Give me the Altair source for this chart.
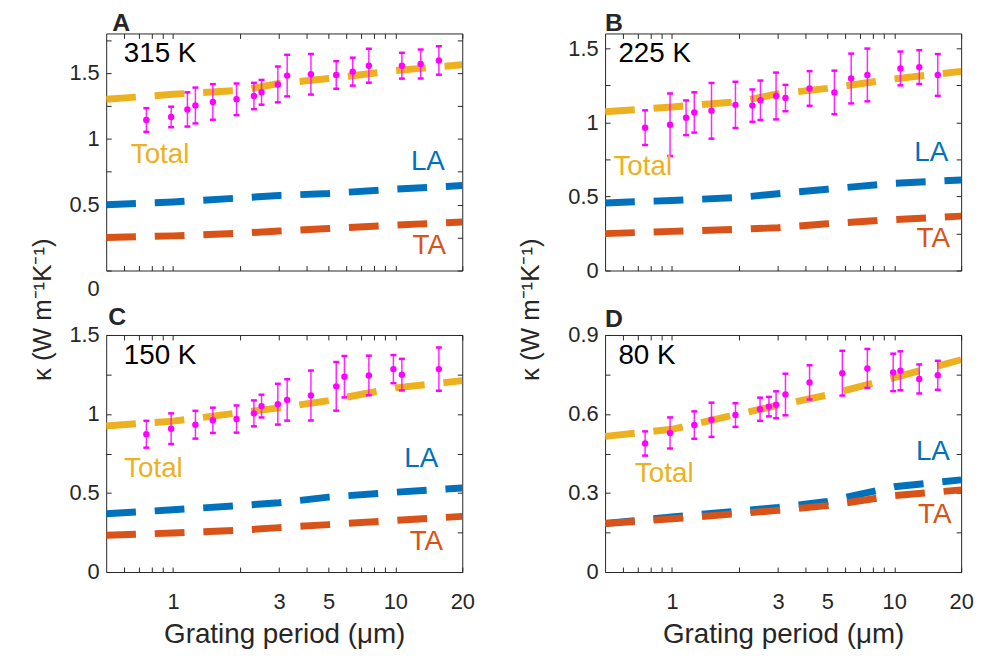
import altair as alt
import pandas as pd

FONT = "Liberation Sans"
C_TOTAL = "#EDB120"
C_LA = "#0072BD"
C_TA = "#D95319"
C_PT = "#FF00FF"
AX = "#262626"

# ---------------- shared axis data ----------------
X_DOMAIN = [0.5, 20]
X_TICKS = [0.6, 0.7, 0.8, 0.9, 1, 2, 3, 4, 5, 6, 7, 8, 9, 10, 20]
X_LABELS = [1, 3, 5, 10, 20]
LINE_X = [0.5, 1, 2, 3, 5, 10, 20]

# ---------------- Panel A : 315 K ----------------
a_px = [0.758, 0.98, 1.16, 1.26, 1.51, 1.93, 2.31, 2.50, 2.96, 3.26, 4.17, 5.42, 6.43, 7.60, 10.7, 13.0, 15.7]
a_py = [1.143, 1.166, 1.223, 1.253, 1.28, 1.30, 1.325, 1.353, 1.413, 1.48, 1.49, 1.485, 1.51, 1.555, 1.555, 1.568, 1.595]
a_pe = [0.09, 0.078, 0.13, 0.136, 0.135, 0.12, 0.10, 0.094, 0.136, 0.158, 0.154, 0.105, 0.106, 0.129, 0.098, 0.11, 0.108]
a_total = [1.30, 1.338, 1.368, 1.42, 1.458, 1.518, 1.563]
a_la = [0.50, 0.52, 0.551, 0.57, 0.585, 0.618, 0.645]
a_ta = [0.25, 0.263, 0.283, 0.30, 0.319, 0.345, 0.368]
a_yticks = [0, 0.25, 0.5, 0.75, 1, 1.25, 1.5, 1.75]
a_ylabels = [0, 0.5, 1, 1.5]

# ---------------- Panel B : 225 K ----------------
b_px = [0.757, 0.98, 1.157, 1.26, 1.506, 1.93, 2.30, 2.50, 2.94, 3.24, 4.16, 5.38, 6.40, 7.57, 10.66, 12.96, 15.7]
b_py = [0.964, 0.984, 1.031, 1.067, 1.078, 1.118, 1.113, 1.149, 1.178, 1.164, 1.229, 1.202, 1.296, 1.32, 1.364, 1.373, 1.32]
b_pe = [0.117, 0.211, 0.117, 0.136, 0.188, 0.156, 0.109, 0.133, 0.158, 0.089, 0.117, 0.147, 0.168, 0.178, 0.114, 0.114, 0.141]
b_total = [1.071, 1.104, 1.14, 1.193, 1.229, 1.293, 1.344]
b_la = [0.456, 0.473, 0.493, 0.518, 0.549, 0.589, 0.611]
b_ta = [0.249, 0.264, 0.278, 0.289, 0.316, 0.344, 0.367]
b_yticks = [0, 0.25, 0.5, 0.75, 1, 1.25, 1.5]
b_ylabels = [0, 0.5, 1, 1.5]

# ---------------- Panel C : 150 K ----------------
c_px = [0.758, 0.98, 1.26, 1.51, 1.93, 2.31, 2.50, 2.96, 3.26, 4.17, 5.42, 5.90, 7.60, 9.80, 10.7, 15.7]
c_py = [0.872, 0.907, 0.932, 0.96, 0.968, 1.004, 1.05, 1.062, 1.089, 1.117, 1.175, 1.236, 1.244, 1.284, 1.249, 1.284]
c_pe = [0.085, 0.097, 0.088, 0.08, 0.086, 0.082, 0.072, 0.129, 0.131, 0.158, 0.154, 0.131, 0.125, 0.089, 0.1, 0.137]
c_total = [0.924, 0.955, 1.008, 1.039, 1.085, 1.165, 1.211]
c_la = [0.369, 0.394, 0.421, 0.438, 0.474, 0.505, 0.532]
c_ta = [0.233, 0.247, 0.264, 0.281, 0.30, 0.327, 0.352]
c_yticks = [0, 0.25, 0.5, 0.75, 1, 1.25, 1.5]
c_ylabels = [0, 0.5, 1, 1.5]

# ---------------- Panel D : 80 K ----------------
d_px = [0.757, 0.98, 1.26, 1.506, 1.93, 2.49, 2.73, 2.94, 3.24, 4.16, 5.84, 7.57, 9.89, 10.66, 12.96, 15.7]
d_py = [0.488, 0.528, 0.558, 0.578, 0.596, 0.618, 0.628, 0.635, 0.674, 0.72, 0.755, 0.773, 0.758, 0.764, 0.733, 0.747]
d_pe = [0.046, 0.059, 0.052, 0.065, 0.045, 0.044, 0.037, 0.051, 0.079, 0.065, 0.085, 0.074, 0.071, 0.074, 0.055, 0.055]
d_total = [0.515, 0.542, 0.600, 0.633, 0.672, 0.738, 0.806]
d_la = [0.184, 0.209, 0.232, 0.245, 0.268, 0.324, 0.35]
d_ta = [0.184, 0.202, 0.222, 0.234, 0.252, 0.29, 0.312]
d_yticks = [0, 0.15, 0.3, 0.45, 0.6, 0.75, 0.9]
d_ylabels = [0, 0.3, 0.6, 0.9]

# ---------------- annotation texts (label, x, y) ----------------
a_text = {"temp": ("315 K", 0.60, 1.645), "Total": ("Total", 0.645, 0.877),
          "LA": ("LA", 16.7, 0.827), "TA": ("TA", 16.9, 0.188)}
b_text = {"temp": ("225 K", 0.574, 1.458), "Total": ("Total", 0.545, 0.696),
          "LA": ("LA", 17.5, 0.793), "TA": ("TA", 17.8, 0.211)}
c_text = {"temp": ("150 K", 0.60, 1.366), "Total": ("Total", 0.602, 0.651),
          "LA": ("LA", 15.6, 0.714), "TA": ("TA", 16.4, 0.19)}
d_text = {"temp": ("80 K", 0.574, 0.819), "Total": ("Total", 0.681, 0.372),
          "LA": ("LA", 17.8, 0.454), "TA": ("TA", 18.1, 0.215)}

W, H = 359, 239
TICK = {"expr": "-5"}
YTITLE = "κ (W m⁻¹K⁻¹)"


def make_panel(letter, letter_dx, letter_off, ymax, yticks, ylabels, px, py, pe,
               tot, la, ta, texts, bottom, ytitle_x, zero_shift):
    pts = pd.DataFrame({"x": px, "y": py,
                        "lo": [y - e for y, e in zip(py, pe)],
                        "hi": [y + e for y, e in zip(py, pe)]})
    xs = alt.Scale(type="log", domain=X_DOMAIN, nice=False)
    ys = alt.Scale(domain=[0, ymax], nice=False, zero=False)

    x_kw = dict(values=X_TICKS, domain=False, grid=False, tickSize=TICK,
                tickColor=AX, tickWidth=1, labelFontSize=22, labelColor=AX,
                labelExpr=f"indexof({X_LABELS}, datum.value) >= 0 ? format(datum.value, '~g') : ''",
                labelPadding=25, labelFlush=False)
    if bottom:
        x_axis = alt.Axis(labels=True, title="Grating period (μm)", titleFontSize=28,
                          titleFontWeight="normal", titleColor=AX, titlePadding=8, **x_kw)
    else:
        x_axis = alt.Axis(labels=False, **x_kw)

    y_kw = dict(values=yticks, domain=False, grid=False, tickSize=TICK,
                tickColor=AX, tickWidth=1, labelFontSize=22, labelColor=AX,
                labelExpr=f"indexof({ylabels}, datum.value) >= 0 ? format(datum.value, '~g') : ''",
                labelPadding=12, labelFlush=False)
    if zero_shift:
        y_kw["labelOffset"] = {"condition": {"test": "datum.value === 0", "value": 18}, "value": 0}
    if ytitle_x is not None:
        y_axis = alt.Axis(title=YTITLE, titleFontSize=26, titleFontWeight="normal",
                          titleColor=AX, titleAngle=270, titleX=ytitle_x, titleY=278,
                          titleAlign="center", titleBaseline="middle", **y_kw)
    else:
        y_axis = alt.Axis(**y_kw)

    def X(f):
        return alt.X(f"{f}:Q", scale=xs, axis=x_axis, title=None if not bottom else "Grating period (μm)")

    def Y(f):
        return alt.Y(f"{f}:Q", scale=ys, axis=y_axis, title=YTITLE if ytitle_x is not None else None)

    layers = []
    for vals, col in ((la, C_LA), (ta, C_TA), (tot, C_TOTAL)):
        df = pd.DataFrame({"x": LINE_X, "y": vals})
        layers.append(alt.Chart(df).mark_line(color=col, strokeWidth=7, strokeDash=[30, 19],
                                              strokeCap="butt", clip=True)
                      .encode(x=X("x"), y=Y("y")))
    layers.append(alt.Chart(pts).mark_rule(color=C_PT, strokeWidth=1.5, opacity=0.85)
                  .encode(x=X("x"), y=Y("lo"), y2="hi:Q"))
    for f in ("lo", "hi"):
        layers.append(alt.Chart(pts).mark_tick(color=C_PT, orient="horizontal", size=6,
                                               thickness=2.5, opacity=1)
                      .encode(x=X("x"), y=Y(f)))
    layers.append(alt.Chart(pts).mark_circle(color=C_PT, size=42, opacity=1)
                  .encode(x=X("x"), y=Y("y")))
    for key, col, align in (("temp", "black", "left"), ("Total", C_TOTAL, "left"),
                            ("LA", C_LA, "right"), ("TA", C_TA, "right")):
        t, tx, ty = texts[key]
        df = pd.DataFrame({"x": [tx], "y": [ty], "t": [t]})
        layers.append(alt.Chart(df).mark_text(align=align, baseline="middle", fontSize=28,
                                              color=col, font=FONT)
                      .encode(x=X("x"), y=Y("y"), text="t:N"))
    main = alt.layer(*layers)

    mirror = alt.Chart(pts).mark_point(opacity=0).encode(
        x=alt.X("x:Q", scale=xs, title=None,
                axis=alt.Axis(orient="top", values=X_TICKS, labels=False, domain=False,
                              grid=False, tickSize=TICK, tickColor=AX, tickWidth=1)),
        y=alt.Y("y:Q", scale=ys, title=None,
                axis=alt.Axis(orient="right", values=yticks, labels=False, domain=False,
                              grid=False, tickSize=TICK, tickColor=AX, tickWidth=1)),
    )
    return (alt.layer(main, mirror)
            .resolve_scale(x="independent", y="independent")
            .resolve_axis(x="independent", y="independent")
            .properties(width=W, height=H,
                        title=alt.TitleParams(letter, anchor="start", frame="group",
                                              fontSize=25, fontWeight="bold", color=AX,
                                              font=FONT, dx=letter_dx, offset=letter_off)))


pA = make_panel("A", 6, -3, 1.8, a_yticks, a_ylabels, a_px, a_py, a_pe, a_total, a_la, a_ta,
                a_text, False, -64, True)
pB = make_panel("B", 0, -3, 1.6, b_yticks, b_ylabels, b_px, b_py, b_pe, b_total, b_la, b_ta,
                b_text, False, -75, False)
pC = make_panel("C", 2, -6, 1.5, c_yticks, c_ylabels, c_px, c_py, c_pe, c_total, c_la, c_ta,
                c_text, True, None, False)
pD = make_panel("D", 0, -8, 0.9, d_yticks, d_ylabels, d_px, d_py, d_pe, d_total, d_la, d_ta,
                d_text, True, None, False)

chart = (alt.concat(pA, pB, pC, pD, columns=2, spacing={"row": 65, "column": 144},
                    bounds="flush")
         .properties(padding={"left": 21, "top": 0, "right": 5, "bottom": 5})
         .configure(font=FONT)
         .configure_view(stroke=AX, strokeWidth=1))

chart.save("out.html", embed_options={"renderer": "svg", "actions": False})
